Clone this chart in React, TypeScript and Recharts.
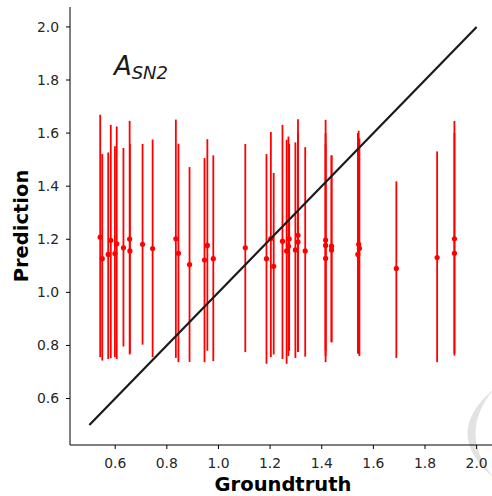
import {
  ScatterChart,
  Scatter,
  XAxis,
  YAxis,
  ErrorBar,
  ReferenceDot,
} from "recharts";

// groundtruth, predicted mean, and the lower / upper ends of each bar
const groundtruth = [
  0.542, 0.55, 0.573, 0.583, 0.599, 0.606, 0.632, 0.656, 0.657, 0.706, 0.745,
  0.835, 0.845, 0.888, 0.946, 0.957, 0.98, 1.104, 1.186, 1.203, 1.214, 1.248,
  1.264, 1.271, 1.274, 1.298, 1.308, 1.308, 1.336, 1.415, 1.415, 1.415, 1.438,
  1.438, 1.543, 1.546, 1.54, 1.689, 1.847, 1.914, 1.914,
];
const prediction = [
  1.208, 1.127, 1.143, 1.196, 1.146, 1.183, 1.168, 1.201, 1.156, 1.181, 1.165,
  1.202, 1.147, 1.105, 1.122, 1.177, 1.127, 1.168, 1.127, 1.203, 1.098, 1.193,
  1.156, 1.174, 1.202, 1.16, 1.215, 1.19, 1.156, 1.197, 1.177, 1.128, 1.174,
  1.16, 1.181, 1.166, 1.143, 1.09, 1.131, 1.202, 1.147,
];
const predLow = [
  0.756, 0.743, 0.749, 0.752, 0.756, 0.749, 0.796, 0.766, 0.77, 0.803, 0.756,
  0.753, 0.737, 0.738, 0.737, 0.78, 0.741, 0.775, 0.731, 0.756, 0.766, 0.749,
  0.731, 0.76, 0.78, 0.753, 0.775, 0.775, 0.758, 0.737, 0.76, 0.78, 0.812,
  0.812, 0.768, 0.76, 0.77, 0.753, 0.737, 0.762, 0.77,
];
const predHigh = [
  1.669, 1.521, 1.527, 1.631, 1.55, 1.625, 1.544, 1.646, 1.56, 1.559, 1.576,
  1.651, 1.56, 1.472, 1.506, 1.577, 1.516, 1.559, 1.521, 1.604, 1.45, 1.631,
  1.575, 1.587, 1.56, 1.565, 1.652, 1.6, 1.547, 1.65, 1.6, 1.56, 1.516, 1.516,
  1.609, 1.58, 1.6, 1.418, 1.531, 1.646, 1.6,
];

// y = x reference
const diagonal = [
  { x: 0.5, y: 0.5 },
  { x: 2.0, y: 2.0 },
];

const ticks = [0.6, 0.8, 1.0, 1.2, 1.4, 1.6, 1.8, 2.0];
const domain: [number, number] = [0.425, 2.075];

const points = groundtruth.map((x, i) => ({
  x,
  y: prediction[i],
  err: [prediction[i] - predLow[i], predHigh[i] - prediction[i]],
}));

const FONT = "'DejaVu Sans', sans-serif";
const tickStyle = { fontSize: 13.9, fill: "#262626", fontFamily: FONT };

function XTitle({ viewBox }: any) {
  if (!viewBox) return null;
  return (
    <text
      x={viewBox.x + viewBox.width / 2}
      y={491}
      textAnchor="middle"
      fontFamily={FONT}
      fontWeight="bold"
      fontSize={19.5}
      fill="#000"
    >
      Groundtruth
    </text>
  );
}

function YTitle({ viewBox }: any) {
  if (!viewBox) return null;
  const cy = viewBox.y + viewBox.height / 2;
  return (
    <text
      x={28}
      y={cy}
      transform={`rotate(-90, 28, ${cy})`}
      textAnchor="middle"
      fontFamily={FONT}
      fontWeight="bold"
      fontSize={19.5}
      fill="#000"
    >
      Prediction
    </text>
  );
}

function MathLabel({ cx, cy }: any) {
  if (cx == null || cy == null) return null;
  return (
    <text x={cx} y={cy} fontFamily={FONT} fontStyle="italic" fill="#1a1a1a">
      <tspan fontSize={26}>A</tspan>
      <tspan fontSize={18} dy={4}>
        SN2
      </tspan>
    </text>
  );
}

const Dot = ({ cx, cy }: any) =>
  cx == null ? <g /> : <circle cx={cx} cy={cy} r={2.6} fill="#ff0000" />;

export default function App() {
  return (
    <div
      style={{
        position: "fixed",
        left: 0,
        top: 0,
        width: 492,
        height: 496,
        overflow: "hidden",
        background: "#fff",
      }}
    >
      {/* faint grey crescent in the lower right corner */}
      <svg
        width={492}
        height={496}
        style={{ position: "absolute", left: 0, top: 0 }}
      >
        <path
          d="M 494 389 Q 441 433 494 478 Q 457 433 494 389 Z"
          fill="#e2e2e2"
        />
      </svg>
      <div style={{ position: "absolute", left: 0, top: 0 }}>
        <ScatterChart
          width={500}
          height={496}
          margin={{ top: 7, right: 4, bottom: 0, left: 0 }}
        >
          <XAxis
            type="number"
            dataKey="x"
            domain={domain}
            ticks={ticks}
            allowDataOverflow
            tickFormatter={(v: number) => v.toFixed(1)}
            tick={tickStyle}
            tickSize={4}
            tickMargin={9}
            height={51}
            stroke="#000"
            tickLine={{ stroke: "#000" }}
            label={<XTitle />}
          />
          <XAxis
            xAxisId="top"
            orientation="top"
            type="number"
            domain={domain}
            allowDataOverflow
            tick={false}
            tickLine={false}
            height={0}
            stroke="#000"
          />
          <YAxis
            type="number"
            dataKey="y"
            domain={domain}
            ticks={ticks}
            allowDataOverflow
            tickFormatter={(v: number) => v.toFixed(1)}
            tick={tickStyle}
            tickSize={4}
            tickMargin={7}
            width={70}
            stroke="#000"
            tickLine={{ stroke: "#000" }}
            label={<YTitle />}
          />
          <YAxis
            yAxisId="right"
            orientation="right"
            type="number"
            domain={domain}
            tick={false}
            tickLine={false}
            width={0}
            stroke="#000"
          />
          <Scatter data={points} shape={<Dot />} isAnimationActive={false}>
            <ErrorBar
              dataKey="err"
              direction="y"
              width={0}
              stroke="#ff0000"
              strokeWidth={1.8}
              isAnimationActive={false}
            />
          </Scatter>
          <Scatter
            data={diagonal}
            shape={() => <g />}
            line={{ stroke: "#1a1a1a", strokeWidth: 2.2 }}
            isAnimationActive={false}
          />
          <ReferenceDot
            x={0.595}
            y={1.82}
            ifOverflow="visible"
            shape={<MathLabel />}
          />
        </ScatterChart>
      </div>
    </div>
  );
}
